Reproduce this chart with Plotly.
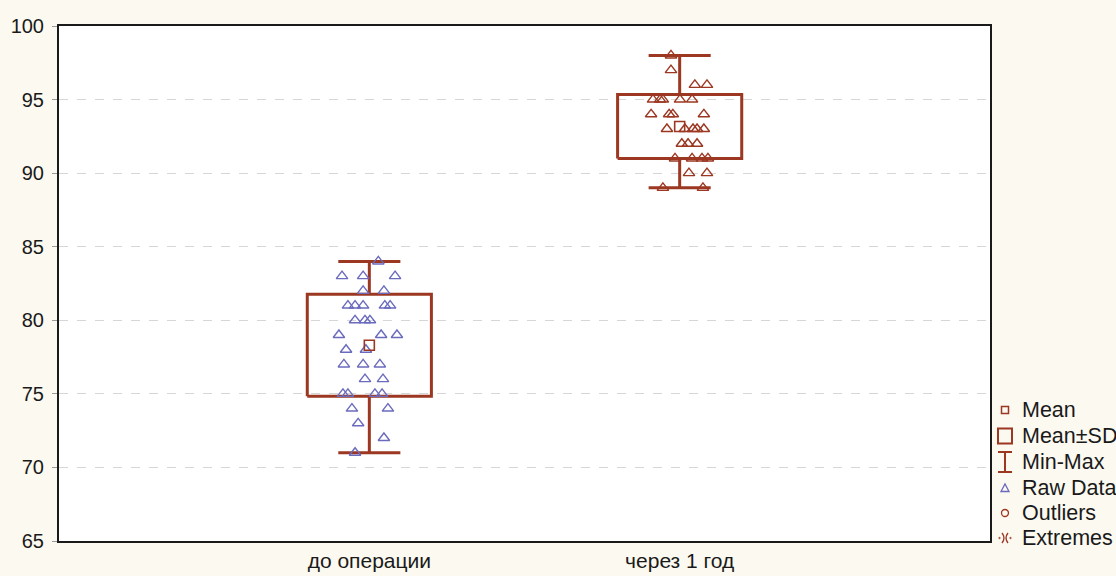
import plotly.graph_objects as go

# ---------------- data ----------------
categories = ["до операции", "через 1 год"]

before_vals = [84,
               83, 83, 83,
               82, 82,
               81, 81, 81, 81, 81,
               80, 80, 80,
               79, 79, 79,
               78, 78,
               77, 77, 77,
               76, 76,
               75, 75, 75, 75,
               74, 74,
               73,
               72,
               71]
before_jitter = [0.029,
                 -0.088, -0.020, 0.083,
                 -0.020, 0.047,
                 -0.069, -0.046, -0.020, 0.050, 0.067,
                 -0.046, -0.014, 0.002,
                 -0.098, 0.038, 0.089,
                 -0.075, -0.011,
                 -0.082, -0.020, 0.034,
                 -0.014, 0.044,
                 -0.085, -0.069, 0.018, 0.041,
                 -0.056, 0.060,
                 -0.036,
                 0.047,
                 -0.046]

after_vals = [98,
              97,
              96, 96,
              95, 95, 95, 95, 95,
              94, 94, 94, 94,
              93, 93, 93, 93, 93,
              92, 92, 92,
              91, 91, 91, 91,
              90, 90,
              89, 89]
after_jitter = [-0.028,
                -0.028,
                0.049, 0.088,
                -0.086, -0.063, -0.054, 0.001, 0.040,
                -0.092, -0.034, -0.022, 0.078,
                -0.041, 0.017, 0.043, 0.056, 0.078,
                0.007, 0.027, 0.056,
                -0.015, 0.040, 0.072, 0.091,
                0.030, 0.088,
                -0.054, 0.075]

means = [78.3, 93.17]
sds = [3.47, 2.18]
mins = [71, 89]
maxs = [84, 98]

y_ticks = [65, 70, 75, 80, 85, 90, 95, 100]

legend_labels = ["Mean", "Mean±SD", "Min-Max", "Raw Data", "Outliers", "Extremes"]

# ---------------- style ----------------
BROWN = "#9c3722"
BLUE = "#6b6bbd"
BG = "#fcf9f0"
FONT = "Liberation Sans, Arial, sans-serif"
BOX_HALF = 0.2
CAP_HALF = 0.1

positions = [1, 2]

fig = go.Figure()

# boxes (mean ± SD) and whiskers (min-max)
bx, by, wx, wy = [], [], [], []
for c, m, s, lo, hi in zip(positions, means, sds, mins, maxs):
    b0, b1 = m - s, m + s
    bx += [c - BOX_HALF, c + BOX_HALF, c + BOX_HALF, c - BOX_HALF, c - BOX_HALF, None]
    by += [b0, b0, b1, b1, b0, None]
    wx += [c, c, None, c, c, None,
           c - CAP_HALF, c + CAP_HALF, None, c - CAP_HALF, c + CAP_HALF, None]
    wy += [b1, hi, None, b0, lo, None, hi, hi, None, lo, lo, None]

fig.add_trace(go.Scatter(x=wx, y=wy, mode="lines", line=dict(color=BROWN, width=3),
                         hoverinfo="skip", showlegend=False))
fig.add_trace(go.Scatter(x=bx, y=by, mode="lines", line=dict(color=BROWN, width=3),
                         hoverinfo="skip", showlegend=False))

# raw data
fig.add_trace(go.Scatter(
    x=[positions[0] + j for j in before_jitter], y=before_vals, mode="markers",
    marker=dict(symbol="triangle-up-open", size=10, color=BLUE, line=dict(width=1.4, color=BLUE)),
    showlegend=False))
fig.add_trace(go.Scatter(
    x=[positions[1] + j for j in after_jitter], y=after_vals, mode="markers",
    marker=dict(symbol="triangle-up-open", size=10, color=BROWN, line=dict(width=1.4, color=BROWN)),
    showlegend=False))

# means
fig.add_trace(go.Scatter(
    x=positions, y=means, mode="markers",
    marker=dict(symbol="square-open", size=10, color=BROWN, line=dict(width=1.6, color=BROWN)),
    showlegend=False))

# ---------------- manual legend (paper coords) ----------------
PL, PT, PR, PB = 59, 26, 990, 541
W, H = PR - PL, PB - PT


def px(x):
    return (x - PL) / W


def py(y):
    return (PB - y) / H


shapes = []
annotations = []
rows_y = [410, 436, 462, 488, 513, 538]
sx = 1005
for lab, ry in zip(legend_labels, rows_y):
    annotations.append(dict(xref="paper", yref="paper", x=px(1020), y=py(ry), text=lab,
                            showarrow=False, xanchor="left", yanchor="middle",
                            font=dict(family=FONT, size=21.5, color="#1a1a1a")))

# Mean
shapes.append(dict(type="rect", xref="paper", yref="paper",
                   x0=px(sx - 3.5), x1=px(sx + 3.5), y0=py(rows_y[0] + 3.5), y1=py(rows_y[0] - 3.5),
                   line=dict(color=BROWN, width=1.5)))
# Mean±SD
shapes.append(dict(type="rect", xref="paper", yref="paper",
                   x0=px(sx - 7), x1=px(sx + 7), y0=py(rows_y[1] + 7.5), y1=py(rows_y[1] - 7.5),
                   line=dict(color=BROWN, width=2)))
# Min-Max
r = rows_y[2]
for (xa, ya, xb, yb) in [(sx - 7, r - 10, sx + 7, r - 10), (sx - 7, r + 10, sx + 7, r + 10),
                         (sx, r - 10, sx, r + 10)]:
    shapes.append(dict(type="line", xref="paper", yref="paper",
                       x0=px(xa), y0=py(ya), x1=px(xb), y1=py(yb),
                       line=dict(color=BROWN, width=2)))
# Raw data triangle
r = rows_y[3]
shapes.append(dict(type="path", xref="paper", yref="paper",
                   path=f"M {px(sx-4)},{py(r+3.5)} L {px(sx+4)},{py(r+3.5)} L {px(sx)},{py(r-4)} Z",
                   line=dict(color=BLUE, width=1.3)))
# Outliers circle
r = rows_y[4]
shapes.append(dict(type="circle", xref="paper", yref="paper",
                   x0=px(sx - 3.5), x1=px(sx + 3.5), y0=py(r + 3.5), y1=py(r - 3.5),
                   line=dict(color=BROWN, width=1.3)))
# Extremes ")("
r = rows_y[5]
shapes.append(dict(type="path", xref="paper", yref="paper",
                   path=(f"M {px(sx-3)},{py(r-5)} Q {px(sx+1)},{py(r)} {px(sx-3)},{py(r+5)} "
                         f"M {px(sx+3)},{py(r-5)} Q {px(sx-1)},{py(r)} {px(sx+3)},{py(r+5)}"),
                   line=dict(color=BROWN, width=1.3)))
for dxp in (-5.5, 5.5):
    shapes.append(dict(type="circle", xref="paper", yref="paper",
                       x0=px(sx + dxp - 0.8), x1=px(sx + dxp + 0.8), y0=py(r + 0.8), y1=py(r - 0.8),
                       fillcolor=BROWN, line=dict(color=BROWN, width=0.5)))

fig.update_layout(
    width=1116, height=576,
    margin=dict(l=PL, r=1116 - PR, t=PT, b=576 - PB, pad=0, autoexpand=False),
    paper_bgcolor=BG, plot_bgcolor="white",
    showlegend=False,
    font=dict(family=FONT, size=20, color="#1a1a1a"),
    shapes=shapes, annotations=annotations,
)
fig.update_xaxes(range=[0, 3], tickmode="array", tickvals=positions, ticktext=categories,
                 showgrid=False, zeroline=False, showline=True, mirror=True, automargin=False,
                 linecolor="#1a1a1a", linewidth=2, ticks="", ticklabelstandoff=0,
                 tickfont=dict(family=FONT, size=21, color="#1a1a1a"))
fig.update_yaxes(range=[65, 100], tickmode="array", tickvals=y_ticks, automargin=False,
                 showgrid=True, gridcolor="#d6d6d6", griddash="dash", gridwidth=1,
                 zeroline=False, showline=True, mirror=True,
                 linecolor="#1a1a1a", linewidth=2, ticks="outside", ticklen=5,
                 tickcolor="#9a9a9a", ticklabelstandoff=4,
                 tickfont=dict(family=FONT, size=20, color="#1a1a1a"))

fig.write_html("out.html")
